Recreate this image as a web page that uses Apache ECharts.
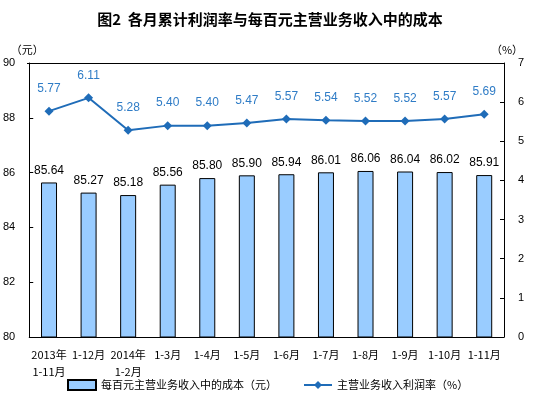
<!DOCTYPE html>
<html>
<head>
<meta charset="utf-8">
<script src="https://cdn.jsdelivr.net/npm/echarts@6/dist/echarts.min.js"></script>
<style>
html, body { margin: 0; padding: 0; background: #fff; }
#main { width: 540px; height: 408px; }
</style>
</head>
<body>
<div id="main"></div>
<script>
// 数据
var months = ['2013年\n1-11月', '1-12月', '2014年\n1-2月', '1-3月', '1-4月', '1-5月', '1-6月', '1-7月', '1-8月', '1-9月', '1-10月', '1-11月'];
var costPerHundred = [85.64, 85.27, 85.18, 85.56, 85.80, 85.90, 85.94, 86.01, 86.06, 86.04, 86.02, 85.91];
var profitRate = [5.77, 6.11, 5.28, 5.40, 5.40, 5.47, 5.57, 5.54, 5.52, 5.52, 5.57, 5.69];

var font = '"Noto Sans CJK SC", "DejaVu Sans", sans-serif';
var numFont = 'Arial, "Liberation Sans", sans-serif';
var lineColor = '#1f6cb8';

var myChart = echarts.init(document.getElementById('main'));
var option = {
    backgroundColor: '#fff',
    animation: false,
    title: {
        text: '图2  各月累计利润率与每百元主营业务收入中的成本',
        left: 'center',
        top: 7,
        textStyle: { fontFamily: font, fontSize: 15, fontWeight: 'bold', color: '#000' }
    },
    grid: { left: 27, right: 36, top: 63, bottom: 71 },
    legend: {
        bottom: 12,
        left: 62,
        itemGap: 26,
        itemWidth: 28,
        itemHeight: 10,
        textStyle: { fontFamily: font, fontSize: 11, color: '#000' },
        data: [
            { name: '每百元主营业务收入中的成本（元）', icon: 'rect' },
            { name: '主营业务收入利润率（%）' }
        ]
    },
    xAxis: {
        type: 'category',
        data: months,
        axisLine: { lineStyle: { color: '#000', width: 1 } },
        axisTick: { inside: true, length: 4, lineStyle: { color: '#000' } },
        axisLabel: { fontFamily: font, fontSize: 11, color: '#000', margin: 9, lineHeight: 17, interval: 0 }
    },
    yAxis: [{
        type: 'value',
        min: 80,
        max: 90,
        interval: 2,
        name: '（元）',
        nameGap: 8,
        nameTextStyle: { fontFamily: font, fontSize: 11, color: '#000', align: 'center', padding: [0, 0, 0, -4] },
        axisLine: { show: true, lineStyle: { color: '#000' } },
        axisTick: { show: true, inside: true, length: 4, lineStyle: { color: '#000' } },
        axisLabel: { fontFamily: numFont, fontSize: 11, color: '#000', margin: 14 },
        splitLine: { show: false }
    }, {
        type: 'value',
        min: 0,
        max: 7,
        interval: 1,
        name: '（%）',
        nameGap: 8,
        nameTextStyle: { fontFamily: font, fontSize: 11, color: '#000', align: 'center', padding: [0, 0, 0, 6] },
        axisLine: { show: true, lineStyle: { color: '#000' } },
        axisTick: { show: true, inside: true, length: 4, lineStyle: { color: '#000' } },
        axisLabel: { fontFamily: numFont, fontSize: 11, color: '#000', margin: 14 },
        splitLine: { show: false }
    }],
    series: [{
        name: '每百元主营业务收入中的成本（元）',
        type: 'bar',
        yAxisIndex: 0,
        data: costPerHundred,
        barWidth: 16,
        itemStyle: { color: '#99ccff', borderColor: '#000', borderWidth: 1 },
        label: {
            show: true,
            position: 'top',
            distance: 6,
            formatter: function (p) { return p.value.toFixed(2); },
            fontFamily: numFont,
            fontSize: 12,
            color: '#000'
        },
        z: 2
    }, {
        name: '主营业务收入利润率（%）',
        type: 'line',
        yAxisIndex: 1,
        data: profitRate,
        symbol: 'diamond',
        symbolSize: 9,
        lineStyle: { color: lineColor, width: 2 },
        itemStyle: { color: lineColor },
        label: {
            show: true,
            position: 'top',
            distance: 12,
            formatter: function (p) { return p.value.toFixed(2); },
            fontFamily: numFont,
            fontSize: 12,
            color: '#2f7cc6'
        },
        z: 3
    }],
    // 顶部边框
    graphic: [{
        type: 'line',
        shape: { x1: 27, y1: 63.5, x2: 504, y2: 63.5 },
        style: { stroke: '#000', lineWidth: 1 }
    }]
};
myChart.setOption(option);
</script>
</body>
</html>
